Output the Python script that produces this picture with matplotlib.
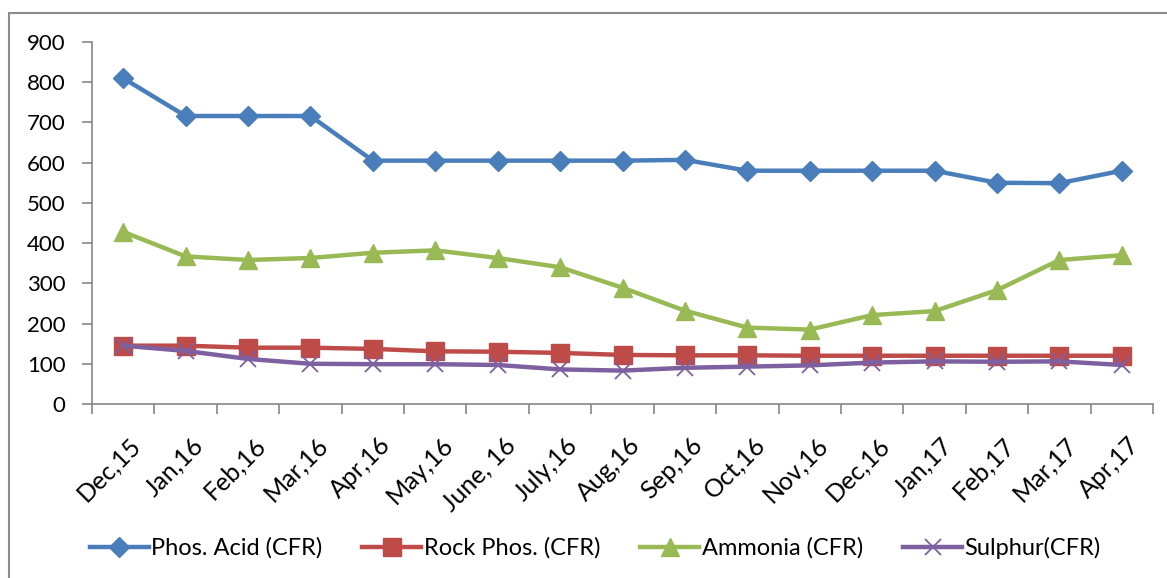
import matplotlib.pyplot as plt
import matplotlib.transforms as mtransforms
from matplotlib.patches import Rectangle

months = ["Dec,15", "Jan,16", "Feb,16", "Mar,16", "Apr,16", "May,16", "June, 16",
          "July,16", "Aug,16", "Sep,16", "Oct,16", "Nov,16", "Dec,16", "Jan,17",
          "Feb,17", "Mar,17", "Apr,17"]

phos_acid = [810, 716, 716, 716, 605, 605, 605, 605, 605, 607, 580, 580, 580, 580, 550, 549, 580]
rock_phos = [145, 145, 140, 140, 137, 131, 130, 127, 122, 121, 121, 120, 120, 120, 120, 120, 120]
ammonia = [428, 367, 358, 363, 376, 382, 363, 340, 289, 232, 190, 185, 221, 231, 283, 358, 370]
sulphur = [145, 132, 112, 100, 99, 99, 97, 86, 83, 90, 93, 96, 103, 106, 105, 106, 97]

plt.rcParams['font.family'] = ['Lato', 'DejaVu Sans']

fig = plt.figure(figsize=(11.67, 5.78), dpi=100)
ax = fig.add_axes([92 / 1167, 174 / 578, 1061 / 1167, 362 / 578])

# chart border (only top and left visible in the crop)
fig.patches.append(Rectangle((9 / 1167, -0.1), 1.2, 0.1 + 565 / 578, transform=fig.transFigure,
                             fill=False, edgecolor='#8c8c8c', linewidth=1.5))

x = list(range(len(months)))
ax.plot(x, phos_acid, color='#4A7EBB', lw=3.2, marker='D', ms=10, label='Phos. Acid (CFR)')
ax.plot(x, rock_phos, color='#BE4B48', lw=3.2, marker='s', ms=13, label='Rock Phos. (CFR)')
ax.plot(x, ammonia, color='#98B954', lw=3.2, marker='^', ms=13, label='Ammonia (CFR)')
ax.plot(x, sulphur, color='#7D60A0', lw=3.2, marker='x', ms=12, mew=1.3, label='Sulphur(CFR)')

ax.set_ylim(0, 900)
ax.set_xlim(-0.5, len(months) - 0.5)
ax.set_yticks(range(0, 901, 100))
ax.tick_params(axis='y', labelsize=16, length=7, color='#868686', width=1.2, pad=12)

ax.set_xticks([i - 0.5 for i in range(len(months) + 1)])
ax.set_xticklabels([])
ax.tick_params(axis='x', which='major', length=7, color='#868686', width=1.2)
ax.set_xticks(x, minor=True)
ax.set_xticklabels(months, minor=True, rotation=45, ha='right', rotation_mode='anchor', fontsize=18)
ax.tick_params(axis='x', which='minor', length=0, pad=21)
shift = mtransforms.ScaledTranslation(6 / 100, 0, fig.dpi_scale_trans)
for lab in ax.get_xticklabels(minor=True):
    lab.set_transform(lab.get_transform() + shift)

for s in ['top', 'right']:
    ax.spines[s].set_visible(False)
for s in ['left', 'bottom']:
    ax.spines[s].set_color('#868686')
    ax.spines[s].set_linewidth(1.2)

fig.legend(loc='center', bbox_to_anchor=(0.51, 0.052), ncol=4, frameon=False,
           fontsize=17, handlelength=2.5, handletextpad=0.1, columnspacing=1.7)

fig.savefig('out.png', dpi=100)
